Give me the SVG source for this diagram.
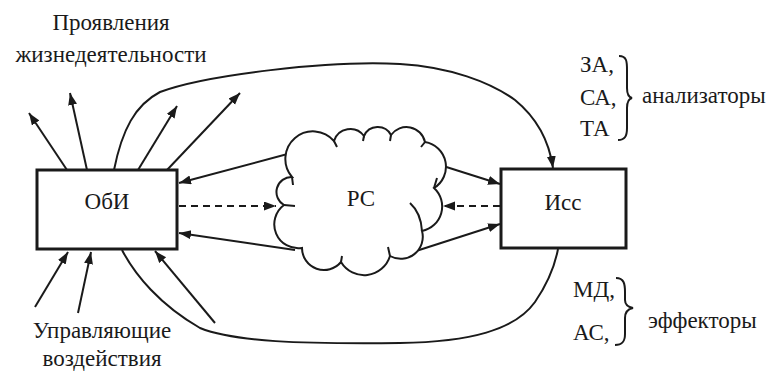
<svg xmlns="http://www.w3.org/2000/svg" width="776" height="374" viewBox="0 0 776 374">
<style>
text{font-family:'Liberation Serif','DejaVu Serif',serif;font-size:23px;fill:#1a1a1a}
.box{fill:#fff;stroke:#1a1a1a;stroke-width:3}
.ln{fill:none;stroke:#1a1a1a;stroke-width:2}
.dash{stroke-dasharray:7 5}
.cloud{fill:#fff;stroke:#1a1a1a;stroke-width:2;stroke-linejoin:miter}
</style>
<defs>
<marker id="ah" markerUnits="userSpaceOnUse" markerWidth="13" markerHeight="10" refX="12" refY="4.5" orient="auto">
<path d="M0,0 L12,4.5 L0,9 z" fill="#1a1a1a"/>
</marker>
</defs>
<g id="labels">
<text x="111" y="30" text-anchor="middle">Проявления</text>
<text x="111" y="62" text-anchor="middle">жизнедеятельности</text>
<text x="102" y="338" text-anchor="middle">Управляющие</text>
<text x="102" y="366" text-anchor="middle">воздействия</text>
<text x="580" y="72">ЗА,</text>
<text x="580" y="105">СА,</text>
<text x="580" y="136">ТА</text>
<text x="642" y="103">анализаторы</text>
<text x="573" y="297">МД,</text>
<text x="573" y="340">АС,</text>
<text x="648" y="328">эффекторы</text>
<path class="ln" d="M619,56 C627,56 627,62 627,70 L627,88 C627,94 628,97 632,98 C628,99 627,102 627,108 L627,128 C627,136 625,140 618,140"/>
<path class="ln" d="M616,278 C624,278 625,284 625,292 L625,300 C625,305 628,307 633,308 C628,309 625,312 625,318 L625,334 C625,342 622,345 615,345"/>
</g>
<g id="connectors">
<line class="ln" x1="67" y1="170" x2="29" y2="113" marker-end="url(#ah)"/>
<line class="ln" x1="87" y1="170" x2="70" y2="93" marker-end="url(#ah)"/>
<line class="ln" x1="138" y1="170" x2="177" y2="106" marker-end="url(#ah)"/>
<line class="ln" x1="167" y1="170" x2="240" y2="93" marker-end="url(#ah)"/>
<path class="ln" d="M114,170 C122,130 135,105 160,92 C205,75 330,60 400,64 C450,67 490,82 515,100 C537,118 549,140 553,168" marker-end="url(#ah)"/>
<path class="ln" d="M122,250 C135,275 160,305 200,328 C235,342 300,344 400,343 C470,342 515,330 535,302 C548,283 555,265 558,249"/>
<line class="ln" x1="35" y1="307" x2="68" y2="252" marker-end="url(#ah)"/>
<line class="ln" x1="78" y1="313" x2="91" y2="252" marker-end="url(#ah)"/>
<line class="ln" x1="215" y1="323" x2="155" y2="251" marker-end="url(#ah)"/>
<line class="ln" x1="295" y1="152" x2="179" y2="183" marker-end="url(#ah)"/>
<line class="ln" x1="295" y1="250" x2="179" y2="233" marker-end="url(#ah)"/>
<line class="ln dash" x1="179" y1="206" x2="276" y2="206" marker-end="url(#ah)"/>
<line class="ln dash" x1="500" y1="206" x2="443" y2="206" marker-end="url(#ah)"/>
<line class="ln" x1="440" y1="165" x2="500" y2="184" marker-end="url(#ah)"/>
<line class="ln" x1="413" y1="252" x2="500" y2="224" marker-end="url(#ah)"/>
</g>
<g id="obi">
<rect class="box" x="37" y="170" width="140" height="79"/>
<text x="107" y="209" text-anchor="middle">ОбИ</text>
</g>
<g id="iss">
<rect class="box" x="501" y="169" width="125" height="79"/>
<text x="563" y="210" text-anchor="middle">Исс</text>
</g>
<g id="rs">
<path class="cloud" d="M292,177 A27,27 0 0 1 334,141 A17,17 0 0 1 364,136 A15,15 0 0 1 391,135 A19,19 0 0 1 425,142 A25,25 0 0 1 434,188 A25,25 0 0 1 422,231 A22,22 0 0 1 390,256 A27,27 0 0 1 341,262 A22,22 0 0 1 302,248 A24,24 0 0 1 284,205 A15,15 0 0 1 292,177 Z"/>
<path class="ln" d="M292,177 L293,185 M334,141 L337,147 M364,136 L363,141 M391,135 L390,141 M425,142 L421,147 M434,188 L437,178 M410,203 Q421,213 422,231 M390,256 L388,247 M341,262 L342,256 M284,205 L295,206"/>
<text x="361" y="206" text-anchor="middle">РС</text>
</g>
</svg>
